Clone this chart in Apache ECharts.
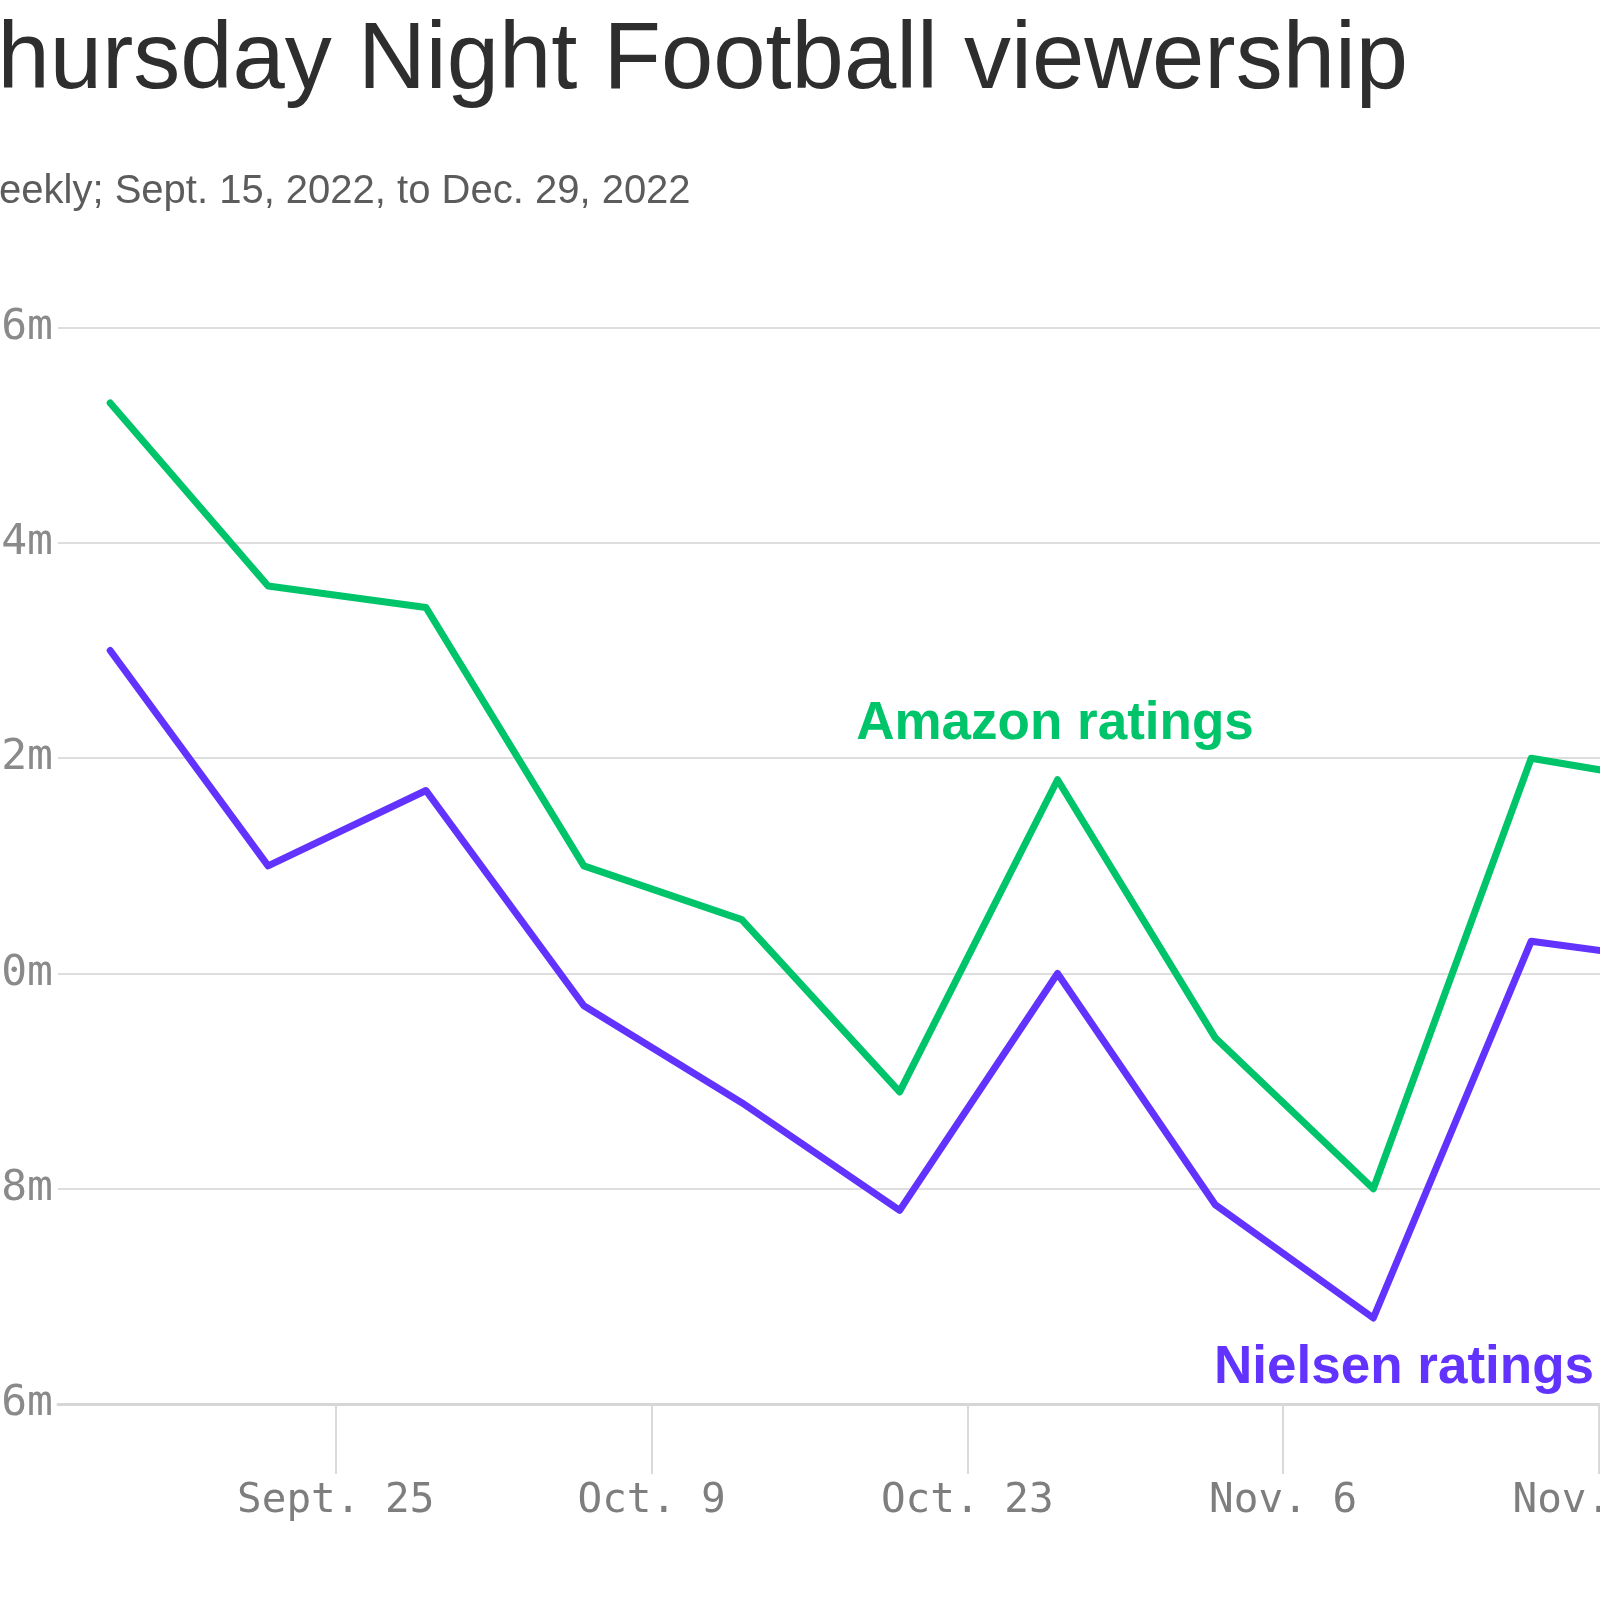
<!DOCTYPE html>
<html>
<head>
<meta charset="utf-8">
<script src="https://cdn.jsdelivr.net/npm/echarts@6/dist/echarts.min.js"></script>
<style>
html,body{margin:0;padding:0;background:#fff;}
#chart{width:1600px;height:1600px;}
</style>
</head>
<body>
<div id="chart"></div>
<script>
// ---- data ----
const weeks = ['2022-09-15','2022-09-22','2022-09-29','2022-10-06','2022-10-13','2022-10-20','2022-10-27','2022-11-03','2022-11-10','2022-11-17','2022-12-01'];
const amazonRatings = [15.3, 13.6, 13.4, 11.0, 10.5, 8.9, 11.8, 9.4, 8.0, 12.0, 11.5];
const nielsenRatings = [13.0, 11.0, 11.7, 9.7, 8.8, 7.8, 10.0, 7.85, 6.8, 10.3, 9.9];
const tickDates = ['2022-09-25','2022-10-09','2022-10-23','2022-11-06','2022-11-20','2022-12-04'];
const tickLabels = ['Sept. 25','Oct. 9','Oct. 23','Nov. 6','Nov. 20','Dec. 4'];
const yTicks = [6, 8, 10, 12, 14, 16];

const titleText = 'Thursday Night Football viewership';
const subtitleText = 'Weekly; Sept. 15, 2022, to Dec. 29, 2022';

const DAY = 86400000;
const t = s => Date.parse(s + 'T00:00:00Z');
const tickTs = tickDates.map(t);
const labelByTs = {};
tickTs.forEach((v, i) => { labelByTs[v] = tickLabels[i]; });

const chart = echarts.init(document.getElementById('chart'), null, {renderer: 'canvas'});
const option = {
  animation: false,
  backgroundColor: '#ffffff',
  grid: { left: 58, top: 327.6, width: 1789, height: 1076.5, containLabel: false, outerBoundsMode: 'none' },
  xAxis: {
    type: 'value',
    min: t(weeks[0]) - 2.314 * DAY,
    max: t(weeks[weeks.length - 1]),
    axisLine: { show: true, lineStyle: { color: '#d6d6d6', width: 3 } },
    axisTick: { show: true, customValues: tickTs, length: 70, lineStyle: { color: '#d9d9d9', width: 2 } },
    axisLabel: {
      customValues: tickTs,
      formatter: v => labelByTs[v] || '',
      margin: 77,
      color: '#7e7e7e',
      fontFamily: 'DejaVu Sans Mono',
      fontSize: 41
    },
    splitLine: { show: false }
  },
  yAxis: {
    type: 'value',
    min: yTicks[0],
    max: yTicks[yTicks.length - 1],
    interval: 2,
    axisLine: { show: false },
    axisTick: { show: false },
    axisLabel: {
      formatter: v => v + 'm',
      margin: 5,
      color: '#8a8a8a',
      fontFamily: 'DejaVu Sans Mono',
      fontSize: 43
    },
    splitLine: { show: true, lineStyle: { color: '#dedede', width: 2 } }
  },
  series: [
    {
      name: 'Amazon ratings',
      type: 'line',
      showSymbol: false,
      data: weeks.map((d, i) => [t(d), amazonRatings[i]]),
      lineStyle: { color: '#00c46a', width: 7, join: 'round', cap: 'round' },
      itemStyle: { color: '#00c46a' },
      z: 3
    },
    {
      name: 'Nielsen ratings',
      type: 'line',
      showSymbol: false,
      data: weeks.map((d, i) => [t(d), nielsenRatings[i]]),
      lineStyle: { color: '#6233ff', width: 7, join: 'round', cap: 'round' },
      itemStyle: { color: '#6233ff' },
      z: 3
    }
  ],
  graphic: [
    {
      type: 'text', left: -60, top: 15, z: 100,
      style: { text: titleText, fill: '#2e2e2e', font: 'normal 94px "Liberation Sans"' }
    },
    {
      type: 'text', left: -38, top: 172, z: 100,
      style: { text: subtitleText, fill: '#5c5c5c', font: 'normal 40px "Liberation Sans"' }
    },
    {
      type: 'text', x: 1055, y: 698, z: 100,
      style: { text: 'Amazon ratings', fill: '#00c46a', font: 'bold 53px "Liberation Sans"',
        align: 'center', verticalAlign: 'top', stroke: '#ffffff', lineWidth: 8 }
    },
    {
      type: 'text', x: 1404, y: 1342, z: 100,
      style: { text: 'Nielsen ratings', fill: '#6233ff', font: 'bold 53px "Liberation Sans"',
        align: 'center', verticalAlign: 'top', stroke: '#ffffff', lineWidth: 8 }
    }
  ]
};
chart.setOption(option);
</script>
</body>
</html>
